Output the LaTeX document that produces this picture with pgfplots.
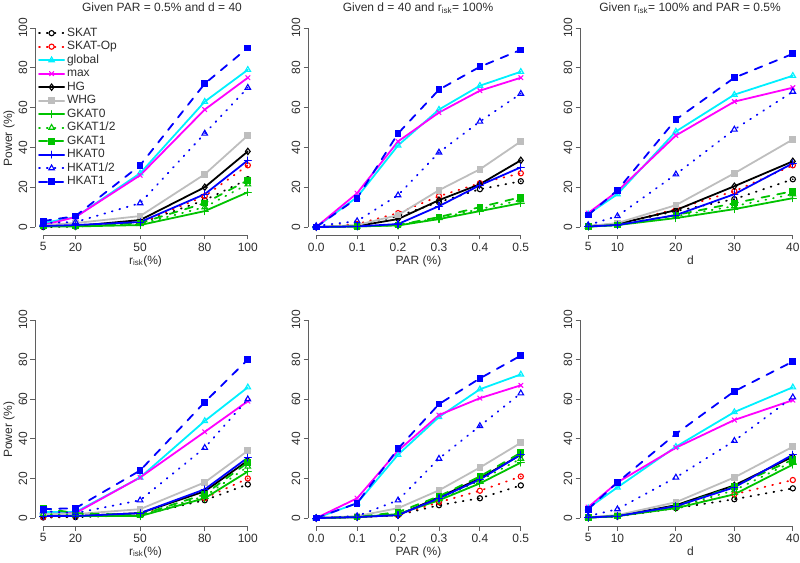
\documentclass[border=0pt,12pt]{standalone}
\usepackage{fontspec}
\setmainfont{Liberation Sans}
\usepackage{pgfplots}
\usepackage{pgfplotstable}
\pgfplotsset{compat=1.18}
\definecolor{rgreen}{RGB}{0,195,0}
\definecolor{rgray}{RGB}{190,190,190}
\definecolor{rcyan}{RGB}{0,240,255}
\definecolor{rmag}{RGB}{255,0,255}
\definecolor{rblue}{RGB}{0,0,255}
\definecolor{rred}{RGB}{255,0,0}
\definecolor{axiscol}{RGB}{95,95,95}
\definecolor{labcol}{RGB}{45,45,45}

\pgfplotstableread{
x SKAT SKATOp global max HG WHG GKATa GKATb GKATc HKATa HKATb HKATc
5   0   0.3 2  1  0.5 1   0.3 0.5 0.5 0.5 2   3
20  0.2 0.5 5  5  0.5 2   0.3 0.5 0.5 1   2.5 5.5
50  2   2   27 26 3.5 5.5 1   1.5 2   2.5 12  31
80  13.5 15.5 63 59 20 26.5 8 10 12 16.5 47 72
100 24  31  79 75 38 46 17.5 21.5 23.5 33.5 70 90
}\tTL
\pgfplotstableread{
x SKAT SKATOp global max HG WHG GKATa GKATb GKATc HKATa HKATb HKATc
0   0   0   0  0  0  0  0   0   0   0   0.5 0
0.1 1   1.5 15 17 0.5 1 0.3 0.3 0.3 0.3 3 14.5
0.2 5.5 7   41 43 4  6  0.8 1   1   1.5 16 47
0.3 12.5 15.5 59 57.5 13.5 18.5 4 4.5 5 10.5 37.5 69
0.4 19  22  71 68.5 21.5 29 8 9 10 21 53 80.5
0.5 23  27  78 75 33.5 43 12 13.5 15 30 67 89
}\tTM
\pgfplotstableread{
x SKAT SKATOp global max HG WHG GKATa GKATb GKATc HKATa HKATb HKATc
5  0.3 0.3 6.5 7 0.5 0.5 0.2 0.2 0.2 0.3 1 6
10 1.5 1.5 16.5 18 1.5 2 1 1 1 1 5.5 18.5
20 8   9   48 46 8.5 11 4.5 5.5 6 6 26.5 54
30 14  18  66.5 63 20.5 27 9 10.5 12 16.5 49 75
40 24  31  76 70 33 44 14.5 16.5 18 32 68 87
}\tTR
\pgfplotstableread{
x SKAT SKATOp global max HG WHG GKATa GKATb GKATc HKATa HKATb HKATc
5   0.3 0.5 3 2 1 2 1 2 5 1 3.5 4.5
20  0.5 1   3 2.5 1 2 1 1.5 2.5 1 2.5 5
50  1.5 2   20.5 20.5 2.5 4.5 1 1.5 1.5 2.5 9 24
80  9   10  49 43.5 13.5 18 10 11 12 14.5 35.5 58.5
100 17  20  66 59 29 34 23.5 26 28 30.5 60 80
}\tBL
\pgfplotstableread{
x SKAT SKATOp global max HG WHG GKATa GKATb GKATc HKATa HKATb HKATc
0   0   0   0  0  0  0  0  0  0  0  0  0
0.1 0.5 0.5 7.5 10 0.5 1 0.5 0.5 0.5 0.5 1 7.5
0.2 1.5 1.5 32 34 1.5 5 2 2 3 1.5 9 35
0.3 6.5 8   51 52 10.5 14 9 9.5 11 10 30 57.5
0.4 10  13.8 65 60.5 20 25.5 17.5 19 21 19.5 46.5 70.5
0.5 16.5 21 72.5 67 32 38 28 30 33 32 63 82
}\tBM
\pgfplotstableread{
x SKAT SKATOp global max HG WHG GKATa GKATb GKATc HKATa HKATb HKATc
5  0.3 0.3 5 5.5 0.3 0.5 0.2 0.3 0.3 0.3 1 4.5
10 0.8 1   15.5 18 1 1.5 1 1 1 1 4.5 18
20 5   5.5 36 35.5 6.5 8 5 5.5 6 6 20.5 42.5
30 9.5 12  53.5 49.5 16.5 20.5 12 14 16 15.5 39 64
40 15  19.2 66 59.5 31 36 27 28.5 29.5 32 61 79
}\tBR

\pgfplotsset{
  rline/.style={line width=1.8pt, line cap=round},
  rdot/.style={dash pattern=on 0.8pt off 7pt},
  rdash/.style={dash pattern=on 8pt off 8pt},
  mk/.style={mark options={solid, line width=1.1pt}},
  sSKAT/.style={rline, rdot, black, mark=o, mark size=2.6pt, mk},
  sSKATOp/.style={rline, rdot, rred, mark=o, mark size=2.6pt, mk},
  sglobal/.style={rline, rcyan, mark=triangle, mark size=3.2pt, mk},
  smax/.style={rline, rmag, mark=x, mark size=3pt, mk},
  sHG/.style={rline, black, mark=diamond, mark size=3.2pt, mk},
  sWHG/.style={rline, rgray, mark=square*, mark size=2.8pt, mk},
  sGKATa/.style={rline, rgreen, mark=+, mark size=3.5pt, mk},
  sGKATb/.style={rline, rdot, rgreen, mark=triangle, mark size=3.2pt, mk},
  sGKATc/.style={rline, rdash, rgreen, mark=square*, mark size=2.8pt, mk},
  sHKATa/.style={rline, rblue, mark=+, mark size=3.5pt, mk},
  sHKATb/.style={rline, rdot, rblue, mark=triangle, mark size=3.2pt, mk},
  sHKATc/.style={rline, rdash, rblue, mark=square*, mark size=2.8pt, mk},
  rpanel/.style={
    scale only axis, width=221pt, anchor=south west,
    ymin=-4, ymax=104, ytick={0,20,40,60,80,100},
    axis x line*=bottom, axis y line*=left,
    axis line style={draw=none},
    tick align=outside, major tick length=4.5pt,
    tick style={axiscol, line width=0.8pt},
    yticklabel style={rotate=90, anchor=south, inner sep=3pt},
    xticklabel style={inner sep=3pt},
    tick label style={text=labcol, font=\normalsize},
    label style={text=labcol, font=\normalsize},
    ylabel style={at={(ticklabel cs:0.45)}, inner sep=1pt},
    xlabel style={inner sep=1pt},
    /pgf/number format/assume math mode=true,
    clip=false,
  },
}
\newcommand{\plotall}[1]{%
  \addplot[sSKAT] table[x=x,y=SKAT]{#1};
  \addplot[sSKATOp] table[x=x,y=SKATOp]{#1};
  \addplot[sglobal] table[x=x,y=global]{#1};
  \addplot[smax] table[x=x,y=max]{#1};
  \addplot[sHG] table[x=x,y=HG]{#1};
  \addplot[sWHG] table[x=x,y=WHG]{#1};
  \addplot[sGKATa] table[x=x,y=GKATa]{#1};
  \addplot[sGKATb] table[x=x,y=GKATb]{#1};
  \addplot[sGKATc] table[x=x,y=GKATc]{#1};
  \addplot[sHKATa] table[x=x,y=HKATa]{#1};
  \addplot[sHKATb] table[x=x,y=HKATb]{#1};
  \addplot[sHKATc] table[x=x,y=HKATc]{#1};
}

\begin{document}
\begin{tikzpicture}
\useasboundingbox (0,0) rectangle (800pt,562pt);
\clip (0,0) rectangle (800pt,562pt);

% ---- top left
\begin{axis}[rpanel, at={(35pt,327pt)}, height=215pt,
  xmin=1.2, xmax=103.8, xtick={5,20,50,80,100},
  xlabel={r\textsubscript{isk}(\%)}, ylabel={Power (\%)},
  legend entries={SKAT,SKAT-Op,global,max,HG,WHG,GKAT0,GKAT1/2,GKAT1,HKAT0,HKAT1/2,HKAT1},
  legend cell align=left,
  legend style={at={(0.0136,0.971)}, anchor=north west, draw=none, fill=none,
    inner sep=0pt, row sep=0pt, font=\normalsize,
    nodes={inner ysep=0.75pt, text height=9pt, text depth=3pt, text=labcol}},
  legend image code/.code={\draw[mark repeat=2,mark phase=2,#1] plot coordinates {(0pt,0pt) (12.5pt,0pt) (25pt,0pt)};},
]
\plotall{\tTL}
\draw[axiscol, line width=0.8pt] (axis cs:5,-4) -- (axis cs:100,-4);
\draw[axiscol, line width=0.8pt] (axis cs:1.2,0) -- (axis cs:1.2,100);
\end{axis}

% ---- top middle
\begin{axis}[rpanel, at={(308pt,327pt)}, height=215pt,
  xmin=-0.02, xmax=0.52, xtick={0,0.1,0.2,0.3,0.4,0.5},
  xticklabels={0.0,0.1,0.2,0.3,0.4,0.5},
  xlabel={PAR (\%)},
]
\plotall{\tTM}
\draw[axiscol, line width=0.8pt] (axis cs:0,-4) -- (axis cs:0.5,-4);
\draw[axiscol, line width=0.8pt] (axis cs:-0.02,0) -- (axis cs:-0.02,100);
\end{axis}

% ---- top right
\begin{axis}[rpanel, at={(580pt,327pt)}, height=215pt,
  xmin=3.6, xmax=41.4, xtick={5,10,20,30,40},
  xlabel={d},
]
\plotall{\tTR}
\draw[axiscol, line width=0.8pt] (axis cs:5,-4) -- (axis cs:40,-4);
\draw[axiscol, line width=0.8pt] (axis cs:3.6,0) -- (axis cs:3.6,100);
\end{axis}

% ---- bottom left
\begin{axis}[rpanel, at={(35pt,36pt)}, height=214pt,
  xmin=1.2, xmax=103.8, xtick={5,20,50,80,100},
  xlabel={r\textsubscript{isk}(\%)}, ylabel={Power (\%)},
]
\plotall{\tBL}
\draw[axiscol, line width=0.8pt] (axis cs:5,-4) -- (axis cs:100,-4);
\draw[axiscol, line width=0.8pt] (axis cs:1.2,0) -- (axis cs:1.2,100);
\end{axis}

% ---- bottom middle
\begin{axis}[rpanel, at={(308pt,36pt)}, height=214pt,
  xmin=-0.02, xmax=0.52, xtick={0,0.1,0.2,0.3,0.4,0.5},
  xticklabels={0.0,0.1,0.2,0.3,0.4,0.5},
  xlabel={PAR (\%)},
]
\plotall{\tBM}
\draw[axiscol, line width=0.8pt] (axis cs:0,-4) -- (axis cs:0.5,-4);
\draw[axiscol, line width=0.8pt] (axis cs:-0.02,0) -- (axis cs:-0.02,100);
\end{axis}

% ---- bottom right
\begin{axis}[rpanel, at={(580pt,36pt)}, height=214pt,
  xmin=3.6, xmax=41.4, xtick={5,10,20,30,40},
  xlabel={d},
]
\plotall{\tBR}
\draw[axiscol, line width=0.8pt] (axis cs:5,-4) -- (axis cs:40,-4);
\draw[axiscol, line width=0.8pt] (axis cs:3.6,0) -- (axis cs:3.6,100);
\end{axis}

% titles
\node[anchor=base, text=labcol] at (162pt,550pt) {Given PAR = 0.5\% and d = 40};
\node[anchor=base, text=labcol] at (418pt,550pt) {Given d = 40 and r\textsubscript{isk}= 100\%};
\node[anchor=base, text=labcol] at (690pt,550pt) {Given r\textsubscript{isk}= 100\% and PAR = 0.5\%};
\end{tikzpicture}
\end{document}
